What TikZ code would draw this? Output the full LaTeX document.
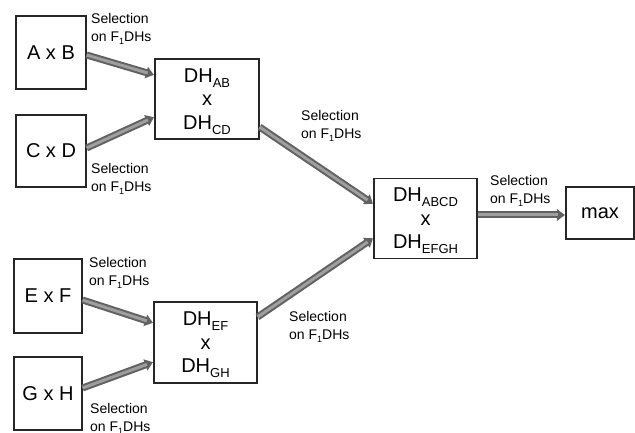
\documentclass[tikz,border=0pt]{standalone}
\usepackage{fontspec}
\setmainfont{Liberation Sans}
\usetikzlibrary{arrows.meta}
\newcommand{\subtx}[1]{\raisebox{-4.7pt}[0pt][0pt]{\fontsize{13}{13}\selectfont #1}}
\newcommand{\onef}{on F\raisebox{-2.5pt}{\fontsize{9}{9}\selectfont 1}DHs}
\newcommand{\flowline}[4]{%
  \draw[flow] ([yshift=#2pt]#1) -- ([yshift=#4pt]#3);
  \draw[flowhi] ([yshift=#2pt]#1) -- ([yshift=#4pt]#3);}
\tikzset{
  box/.style={draw=black!85, line width=1.2pt, fill=white, inner sep=0pt, align=center,
    font=\fontsize{20}{23.5}\selectfont},
  lbl/.style={anchor=north west, inner sep=0pt, align=left,
    font=\fontsize{14}{18.5}\selectfont},
  flow/.style={line width=7pt, draw=black!62,
    -{Triangle[length=8pt,width=11.5pt]}, shorten >=0.5pt},
  flowhi/.style={line width=3pt, draw=black!38, shorten >=7pt}
}
\begin{document}
\begin{tikzpicture}[x=1pt,y=-1pt]
\useasboundingbox (0,0) rectangle (635,433);
\node[box, minimum width=70, minimum height=73] (ab) at (51,52.5) {A x B};
\node[box, minimum width=70, minimum height=72] (cd) at (51,151) {C x D};
\node[box, minimum width=68, minimum height=74] (ef) at (48,296) {E x F};
\node[box, minimum width=68, minimum height=73] (gh) at (48,393.5) {G x H};
\node[box, minimum width=104, minimum height=80] (dhab) at (207,99) {DH\subtx{AB}\\x\\DH\subtx{CD}};
\node[box, minimum width=103, minimum height=81] (dhef) at (205.5,342.5) {DH\subtx{EF}\\x\\DH\subtx{GH}};
\node[box, minimum width=103, minimum height=80] (abcd) at (425.5,218.5) {DH\subtx{ABCD}\\x\\DH\subtx{EFGH}};
\node[box, minimum width=68, minimum height=52] (mx) at (600,213) {max};

\flowline{ab.east}{-2.5}{dhab.west}{24}
\flowline{cd.east}{3}{dhab.west}{-18}
\flowline{dhab.east}{-28}{abcd.west}{14.5}
\flowline{dhef.east}{25.5}{abcd.west}{-19.5}
\flowline{ef.east}{-4}{dhef.west}{19.5}
\flowline{gh.east}{5.5}{dhef.west}{-19.5}
\flowline{abcd.east}{3.5}{mx.west}{-2}

\node[lbl] (l1) at (91,13) {Selection\\\onef};
\node[lbl] (l2) at (91,163) {Selection\\\onef};
\node[lbl] (l3) at (301,110) {Selection\\\onef};
\node[lbl] (l4) at (490,175) {Selection\\\onef};
\node[lbl] (l5) at (89,257) {Selection\\\onef};
\node[lbl] (l6) at (90,403) {Selection\\\onef};
\node[lbl] (l7) at (289,311) {Selection\\\onef};
\end{tikzpicture}
\end{document}
